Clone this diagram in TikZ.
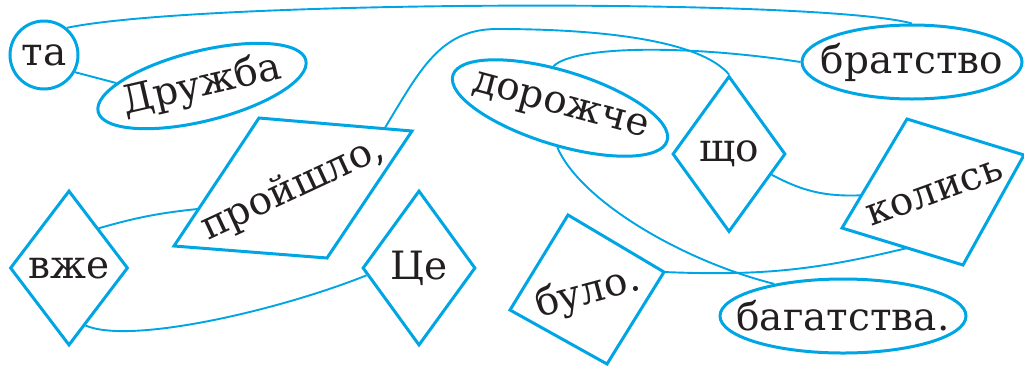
\documentclass[tikz,border=0pt]{standalone}
\usepackage{fontspec}
\setmainfont{DejaVu Serif}
\usetikzlibrary{shapes.geometric,calc}
\definecolor{wordblue}{RGB}{0,165,228}
\definecolor{ink}{RGB}{35,31,32}

\begin{document}
\begin{tikzpicture}[x=1pt, y=-1pt,
                    word/.style={text=ink, font=\fontsize{39}{44}\selectfont, inner sep=0pt},
                    oval/.style={ellipse, draw=wordblue, line width=3pt, inner sep=0pt},
                    rhomb/.style={diamond, draw=wordblue, line width=3pt, inner sep=0pt, word},
                    frame/.style={draw=wordblue, line width=3pt, line join=miter},
                    link/.style={draw=wordblue, line width=1.9pt}]

	\useasboundingbox (0,0) rectangle (1024,365);

	\node[circle, draw=wordblue, line width=3pt, minimum size=68pt, word] (ta) at (44,55) {та};

	\node[oval, minimum width=214pt, minimum height=70pt, rotate=14] (druzhba) at (202,86) {};
	\node[word, rotate=13] (druzhba-w) at (druzhba) {Дружба};

	\node[oval, minimum width=220pt, minimum height=74pt] (bratstvo) at (912,62) {};
	\node[word] (bratstvo-w) at (bratstvo) {братство};

	\node[oval, minimum width=224pt, minimum height=74pt, rotate=-17] (dorozhche) at (560,108) {};
	\node[word, rotate=-15] (dorozhche-w) at (dorozhche) {дорожче};

	\node[oval, minimum width=246pt, minimum height=74pt] (bagatstva) at (843,316) {};
	\node[word] (bagatstva-w) at (bagatstva) {багатства.};

	\node[rhomb, minimum width=113pt, minimum height=156pt] (sho) at (729,154) {що};

	\node[rhomb, minimum width=118pt, minimum height=155pt] (vzhe) at (69,268) {вже};

	\node[rhomb, minimum width=113pt, minimum height=155pt] (tse) at (419,268) {Це};

	\coordinate (prosh-a) at (259,118);
	\coordinate (prosh-b) at (412,131);
	\coordinate (prosh-c) at (327,258);
	\coordinate (prosh-d) at (174,246);
	\draw[frame] (prosh-a) -- (prosh-b) -- (prosh-c) -- (prosh-d) -- cycle;
	\node[word, rotate=25] (prosh) at (293,189) {пройшло,};

	\coordinate (kol-a) at (907,119);
	\coordinate (kol-b) at (1024,155);
	\coordinate (kol-c) at (963,265);
	\coordinate (kol-d) at (842,228);
	\draw[frame] (kol-a) -- (kol-b) -- (kol-c) -- (kol-d) -- cycle;
	\node[word, rotate=20] (kolys) at (935,193) {колись};

	\coordinate (bulo-a) at (568,215);
	\coordinate (bulo-b) at (664,272);
	\coordinate (bulo-c) at (607,364);
	\coordinate (bulo-d) at (510,310);
	\draw[frame] (bulo-a) -- (bulo-b) -- (bulo-c) -- (bulo-d) -- cycle;
	\node[word, rotate=15] (bulo) at (588,293) {було.};

	\coordinate (prosh-top) at ($(prosh-a)!0.82!(prosh-b)$);
	\coordinate (prosh-l) at ($(prosh-a)!0.71!(prosh-d)$);
	\coordinate (kol-l) at ($(kol-a)!0.70!(kol-d)$);
	\coordinate (kol-bt) at ($(kol-d)!0.54!(kol-c)$);


	\path[link] (ta.-29) edge (druzhba.164);

	\draw[link] (ta.50) .. controls (200,0) and (820,-2) .. (bratstvo.north);

	\draw[link] (prosh-top) .. controls (420,70) and (440,29) .. (497,29) .. controls (600,29) and (700,40) .. (sho.north);

	\draw[link] (dorozhche.116) .. controls (575,45) and (690,45) .. (bratstvo.west);

	\draw[link] (dorozhche.-77) .. controls (580,200) and (680,260) .. (bagatstva.155);

	\path[link] (sho.-26) edge[bend right=15] (kol-l);

	\path[link] (bulo-b) edge[bend right=8] (kol-bt);

	\path[link] (vzhe.53) edge[bend left=5] (prosh-l);

	\draw[link] (vzhe.-74) .. controls (130,345) and (280,310) .. (tse.188);

\end{tikzpicture}
\end{document}
